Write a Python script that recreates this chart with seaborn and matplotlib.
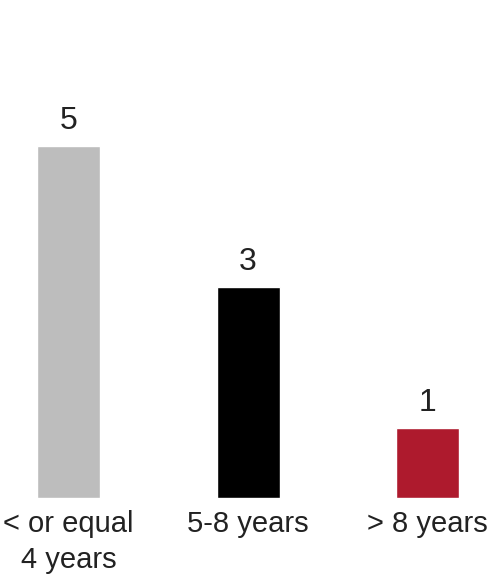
import matplotlib
matplotlib.use('Agg')
import matplotlib.pyplot as plt
import seaborn as sns
import pandas as pd

# data
categories = ['< or equal\n4 years', '5-8 years', '> 8 years']
counts = [5, 3, 1]
colors = ['#bdbdbd', '#000000', '#ae1a2d']

df = pd.DataFrame({'tenure': categories, 'count': counts})

sns.set_style('white')
plt.rcParams['font.family'] = ['Liberation Sans', 'DejaVu Sans']

fig = plt.figure(figsize=(4.87, 5.81), dpi=100)
ax = fig.add_axes([0, 83 / 581, 1, 1 - 83 / 581])

sns.barplot(data=df, x='tenure', y='count', hue='tenure', palette=colors,
            width=0.351, legend=False, ax=ax, saturation=1)

for c in ax.containers:
    ax.bar_label(c, padding=7, fontsize=23, color='#222222')

ax.set_xlim(-0.3816, 2.331)
ax.set_ylim(0, 7.07)
ax.set_xlabel('')
ax.set_ylabel('')
ax.set_yticks([])
ax.tick_params(axis='x', length=0, pad=9, labelsize=21, labelcolor='#222222')
for lbl in ax.get_xticklabels():
    lbl.set_linespacing(1.35)
sns.despine(ax=ax, left=True, bottom=True)

fig.savefig('out.png', dpi=100)
